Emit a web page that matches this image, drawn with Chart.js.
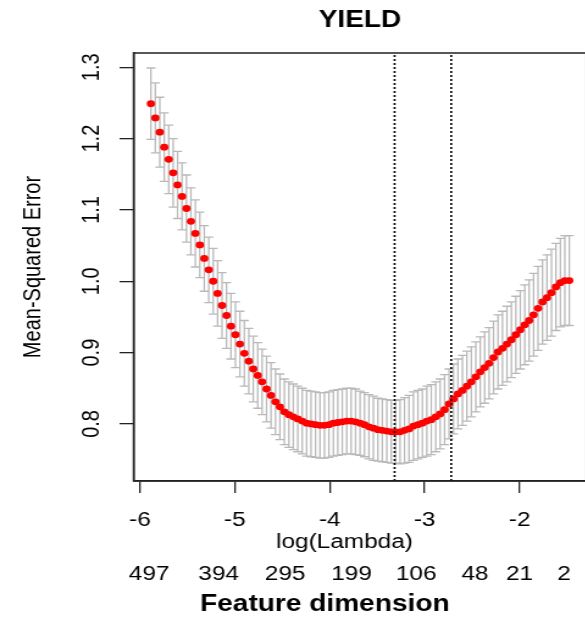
<!DOCTYPE html>
<html>
<head>
<meta charset="utf-8">
<script src="https://cdn.jsdelivr.net/npm/chart.js@4.4.1/dist/chart.umd.min.js"></script>
<style>
html, body { margin: 0; padding: 0; background: #fff; overflow: hidden; }
#wrap { width: 486px; height: 620px; transform: scaleX(1.22); transform-origin: 0 0; }
</style>
</head>
<body>
<div id="wrap"><canvas id="cv"></canvas></div>
<script>
// cross-validation curve: log(lambda), mean MSE and its standard error
const logLambda = [
  -5.885, -5.838, -5.791, -5.744, -5.697, -5.650, -5.604, -5.557, -5.510, -5.463,
  -5.416, -5.369, -5.322, -5.275, -5.228, -5.182, -5.135, -5.088, -5.041, -4.994,
  -4.947, -4.900, -4.853, -4.806, -4.759, -4.713, -4.666, -4.619, -4.572, -4.525,
  -4.478, -4.431, -4.384, -4.337, -4.290, -4.244, -4.197, -4.150, -4.103, -4.056,
  -4.009, -3.962, -3.915, -3.868, -3.821, -3.775, -3.728, -3.681, -3.634, -3.587,
  -3.540, -3.493, -3.446, -3.399, -3.352, -3.306, -3.259, -3.212, -3.165, -3.118,
  -3.071, -3.024, -2.977, -2.930, -2.883, -2.837, -2.790, -2.743, -2.696, -2.649,
  -2.602, -2.555, -2.508, -2.461, -2.414, -2.368, -2.321, -2.274, -2.227, -2.180,
  -2.133, -2.086, -2.039, -1.992, -1.945, -1.899, -1.852, -1.805, -1.758, -1.711,
  -1.664, -1.617, -1.570, -1.523, -1.476
];
const mse = [
  1.249, 1.229, 1.209, 1.188, 1.171, 1.152, 1.135, 1.119, 1.102, 1.084,
  1.067, 1.051, 1.032, 1.016, 1.000, 0.983, 0.966, 0.952, 0.937, 0.925,
  0.912, 0.899, 0.888, 0.877, 0.868, 0.859, 0.849, 0.840, 0.831, 0.824,
  0.817, 0.813, 0.810, 0.807, 0.804, 0.801, 0.800, 0.799, 0.798, 0.798,
  0.799, 0.801, 0.802, 0.803, 0.804, 0.804, 0.803, 0.801, 0.799, 0.796,
  0.794, 0.792, 0.791, 0.790, 0.789, 0.789, 0.789, 0.791, 0.793, 0.797,
  0.799, 0.801, 0.804, 0.806, 0.810, 0.814, 0.820, 0.828, 0.835, 0.842,
  0.847, 0.853, 0.859, 0.866, 0.873, 0.879, 0.885, 0.893, 0.901, 0.906,
  0.912, 0.918, 0.925, 0.932, 0.939, 0.945, 0.953, 0.962, 0.971, 0.977,
  0.984, 0.992, 0.998, 1.001, 1.001
];
const se = [
  0.050, 0.049, 0.049, 0.048, 0.048, 0.048, 0.047, 0.047, 0.047, 0.047,
  0.047, 0.046, 0.046, 0.046, 0.046, 0.046, 0.046, 0.046, 0.046, 0.046,
  0.046, 0.046, 0.046, 0.046, 0.046, 0.046, 0.046, 0.046, 0.046, 0.046,
  0.046, 0.046, 0.046, 0.046, 0.046, 0.046, 0.046, 0.046, 0.046, 0.046,
  0.046, 0.046, 0.046, 0.046, 0.046, 0.046, 0.046, 0.045, 0.045, 0.045,
  0.045, 0.044, 0.044, 0.044, 0.044, 0.044, 0.045, 0.046, 0.047, 0.048,
  0.048, 0.048, 0.049, 0.049, 0.049, 0.049, 0.049, 0.049, 0.049, 0.049,
  0.049, 0.049, 0.049, 0.049, 0.049, 0.050, 0.050, 0.051, 0.052, 0.052,
  0.053, 0.053, 0.054, 0.055, 0.056, 0.057, 0.058, 0.059, 0.059, 0.060,
  0.061, 0.061, 0.062, 0.063, 0.063
];
const xTicks = [-6, -5, -4, -3, -2];
const yTicks = [0.8, 0.9, 1.0, 1.1, 1.2, 1.3];
const featureAt = [-5.903, -5.17, -4.47, -3.77, -3.09, -2.47, -2.0, -1.53];
const featureCounts = ['497', '394', '295', '199', '106', '48', '21', '2'];
const lambdaMin = -3.317;
const lambda1se = -2.72;
const yMin = 0.72, yMax = 1.32;

const FONT = "'Liberation Sans', Arial, sans-serif";
Chart.defaults.font.family = FONT;
Chart.defaults.color = '#000';

const points = logLambda.map((x, i) => ({x: x, y: mse[i]}));
const upper = logLambda.map((x, i) => ({x: x, y: mse[i] + se[i]}));
const lower = logLambda.map((x, i) => ({x: x, y: mse[i] - se[i]}));
const stems = [];
logLambda.forEach((x, i) => {
  stems.push({x: x, y: mse[i] - se[i]}, {x: x, y: mse[i] + se[i]}, {x: x, y: null});
});
const vline = v => [{x: v, y: yMin}, {x: v, y: yMax}];

const GREY = '#b9b9b9';

// box, title and the texts under the x axis
const extras = {
  id: 'extras',
  afterDatasetsDraw(chart) {
    const {ctx, chartArea: a, scales: {x}} = chart;
    ctx.save();
    ctx.strokeStyle = '#222';
    ctx.lineWidth = 1.5;
    ctx.strokeRect(a.left, a.top, a.right - a.left, a.bottom - a.top);
    ctx.fillStyle = '#000';
    ctx.textAlign = 'center';
    ctx.textBaseline = 'middle';
    ctx.font = 'bold 23px ' + FONT;
    ctx.fillText('YIELD', (a.left + a.right) / 2, 21);
    ctx.font = '20px ' + FONT;
    ctx.fillText('log(Lambda)', x.getPixelForValue(-3.845), 542);
    featureCounts.forEach((t, i) => ctx.fillText(t, x.getPixelForValue(featureAt[i]), 574));
    ctx.font = 'bold 23px ' + FONT;
    ctx.fillText('Feature dimension', x.getPixelForValue(-4.052), 605);
    ctx.restore();
  }
};

new Chart(document.getElementById('cv'), {
  type: 'scatter',
  data: {
    datasets: [
      {
        type: 'line', data: vline(lambdaMin), borderColor: '#000', borderWidth: 1.6,
        borderDash: [2, 2], pointRadius: 0, order: 0
      },
      {
        type: 'line', data: vline(lambda1se), borderColor: '#000', borderWidth: 1.6,
        borderDash: [2, 2], pointRadius: 0, order: 0
      },
      {
        label: 'MSE', data: points, backgroundColor: '#ff0000', borderWidth: 0,
        pointRadius: 3.4, order: 1
      },
      {
        data: upper, pointStyle: 'line', pointRadius: 3.7, borderColor: GREY,
        pointBorderWidth: 1.3, backgroundColor: GREY, order: 2
      },
      {
        data: lower, pointStyle: 'line', pointRadius: 3.7, borderColor: GREY,
        pointBorderWidth: 1.3, backgroundColor: GREY, order: 2
      },
      {
        type: 'line', data: stems, borderColor: GREY, borderWidth: 1.3,
        pointRadius: 0, spanGaps: false, order: 3
      }
    ]
  },
  options: {
    responsive: true,
    maintainAspectRatio: false,
    animation: false,
    events: [],
    layout: { padding: { left: 15, right: 2, top: 53, bottom: 73 } },
    plugins: {
      legend: { display: false },
      tooltip: { enabled: false },
      title: { display: false }
    },
    scales: {
      x: {
        type: 'linear',
        min: -6.067,
        max: -1.295,
        afterBuildTicks: s => { s.ticks = xTicks.map(v => ({value: v})); },
        ticks: {
          callback: v => String(v),
          font: { size: 20 },
          color: '#000',
          padding: 15,
          maxRotation: 0
        },
        grid: { drawOnChartArea: false, drawTicks: true, tickLength: 12, color: '#222', lineWidth: 1.3 },
        border: { display: true, color: '#222', width: 1.5 }
      },
      y: {
        type: 'linear',
        min: yMin,
        max: yMax,
        afterBuildTicks: s => { s.ticks = yTicks.map(v => ({value: v})); },
        ticks: {
          callback: v => v.toFixed(1),
          font: { size: 20 },
          color: '#000',
          padding: 8.5,
          minRotation: 90,
          maxRotation: 90,
          crossAlign: 'center'
        },
        grid: { drawOnChartArea: false, drawTicks: true, tickLength: 11.5, color: '#222', lineWidth: 1.3 },
        border: { display: true, color: '#222', width: 1.5 },
        title: {
          display: true,
          text: 'Mean-Squared Error',
          font: { size: 20 },
          color: '#000',
          padding: { top: 0, bottom: 18 }
        }
      }
    }
  },
  plugins: [extras]
});
</script>
</body>
</html>
